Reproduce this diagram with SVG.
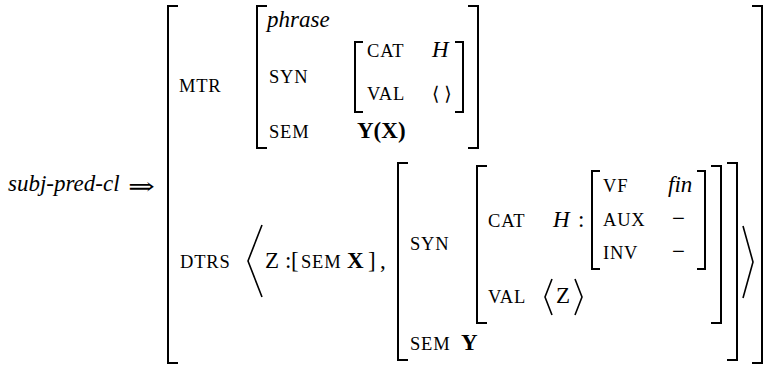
<svg xmlns="http://www.w3.org/2000/svg" width="766" height="365" viewBox="0 0 766 365">
<style>
text{font-family:"Liberation Serif","Times New Roman",serif;fill:#000}
.m{font-size:23px}
.i{font-size:23px;font-style:italic}
.b{font-size:23px;font-weight:bold}
.sc{font-size:18.5px;letter-spacing:0.8px}
.br{fill:none;stroke:#000;stroke-width:2}
.ang{fill:none;stroke:#000;stroke-width:1.6;stroke-linejoin:miter}
.sym{font-family:"Liberation Serif","DejaVu Serif",serif}
</style>
<rect width="766" height="365" fill="#fff"/>
<g id="lhs">
<text class="i" x="8" y="191">subj-pred-cl</text>
<text class="m sym" x="128" y="194" textLength="27" lengthAdjust="spacingAndGlyphs">⇒</text>
</g>
<g id="outer-avm">
<path class="br" d="M178,6H168V363H178"/>
<path class="br" d="M752,6H762V363H752"/>
</g>
<g id="mtr">
<text class="sc" x="179" y="92">MTR</text>
<path class="br" d="M267,6H257V148H267"/>
<path class="br" d="M468,6H478V148H468"/>
<text class="i" x="267" y="27">phrase</text>
<text class="sc" x="269" y="83">SYN</text>
<text class="sc" x="269" y="138">SEM</text>
<text class="b" x="357" y="138">Y(X)</text>
<g id="mtr-syn">
<path class="br" d="M363,42H355V112H363"/>
<path class="br" d="M455,42H463V112H455"/>
<text class="sc" x="367" y="57">CAT</text>
<text class="i" x="432" y="57">H</text>
<text class="sc" x="367" y="100">VAL</text>
<text class="sym" x="432" y="100" font-size="19">⟨ ⟩</text>
</g>
</g>
<g id="dtrs">
<text class="sc" x="180" y="268">DTRS</text>
<polyline class="ang" points="262,225 248,261 262,297"/>
<polyline class="ang" points="743,226 753,262 743,298"/>
<g id="dtr-subj">
<text class="m" x="265" y="268">Z</text>
<text class="m" x="285" y="268">:</text>
<text class="m" x="291" y="268">[</text>
<text class="sc" x="301" y="268">SEM</text>
<text class="b" x="347" y="268">X</text>
<text class="m" x="368" y="268">]</text>
<text class="m" x="380" y="268">,</text>
</g>
<g id="dtr-head">
<path class="br" d="M408,163H398V360H408"/>
<path class="br" d="M727,163H737V360H727"/>
<text class="sc" x="410" y="250">SYN</text>
<text class="sc" x="410" y="350">SEM</text>
<text class="b" x="461" y="350">Y</text>
<g id="dtr-head-syn">
<path class="br" d="M487,166H477V323H487"/>
<path class="br" d="M711,166H721V323H711"/>
<text class="sc" x="488" y="227">CAT</text>
<text class="i" x="553" y="227">H</text>
<text class="m" x="578" y="227">:</text>
<text class="sc" x="488" y="303">VAL</text>
<polyline class="ang" points="552,279 545,297 552,315"/>
<text class="m" x="556" y="303">Z</text>
<polyline class="ang" points="575,279 582,297 575,315"/>
<g id="head-features">
<path class="br" d="M600,171H592V269H600"/>
<path class="br" d="M697,171H705V269H697"/>
<text class="sc" x="603" y="192">VF</text>
<text class="i" x="668" y="192">fin</text>
<text class="sc" x="603" y="226">AUX</text>
<text class="m" x="672" y="226">−</text>
<text class="sc" x="603" y="259">INV</text>
<text class="m" x="672" y="259">−</text>
</g>
</g>
</g>
</g>
</svg>
